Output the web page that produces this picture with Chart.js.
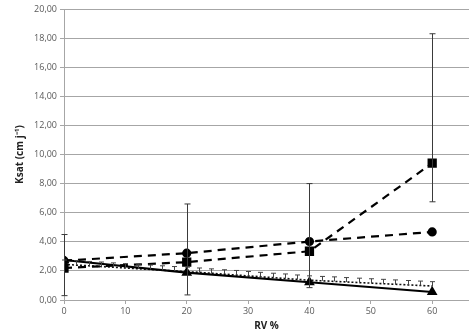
<!DOCTYPE html>
<html><head><meta charset="utf-8">
<script src="https://cdn.jsdelivr.net/npm/chart.js@4/dist/chart.umd.min.js"></script>
<style>html,body{margin:0;padding:0;background:#fff}#wrap{width:469px;height:332px}</style>
</head><body><div id="wrap"><canvas id="c" width="469" height="332"></canvas></div>
<script>
const xMain = [0, 20, 40, 60];
const circleVals = [2.70, 3.22, 4.02, 4.68];
const squareVals = [2.20, 2.60, 3.35, 9.40];
const squareErrHigh = [4.50, 6.60, 8.00, 18.30];
const squareErrLow = [0.30, 0.35, 0.85, 6.75];
const triangleVals = [2.75, 1.88, 1.22, 0.55];
const dottedX = [0,2,4,6,8,10,12,14,16,18,20,22,24,26,28,30,32,34,36,38,40,42,44,46,48,50,52,54,56,58,60];
const dottedVals = [2.45,2.40,2.35,2.30,2.25,2.20,2.15,2.10,2.05,2.00,1.95,1.90,1.84,1.78,1.72,1.66,1.60,1.54,1.48,1.42,1.36,1.32,1.28,1.24,1.20,1.16,1.12,1.08,1.04,1.00,0.96];
const dottedErrPlus = [0.30,0.30,0.30,0.31,0.30,0.30,0.31,0.30,0.30,0.30,0.31,0.30,0.30,0.30,0.31,0.30,0.30,0.30,0.31,0.30,0.30,0.30,0.31,0.30,0.30,0.30,0.30,0.30,0.30,0.30,0.30];
const yTicks = [0,2,4,6,8,10,12,14,16,18,20];
const xTicks = [0,10,20,30,40,50,60];

const pts = (xs, ys) => xs.map((x,i)=>({x:x, y:ys[i]}));

const errorPlugin = {
  id: 'errbars',
  afterDatasetsDraw(chart) {
    const ctx = chart.ctx, xs = chart.scales.x, ys = chart.scales.y;
    ctx.save();
    ctx.strokeStyle = '#3a3a3a';
    ctx.lineWidth = 1;
    xMain.forEach((x,i)=>{
      const px = Math.round(xs.getPixelForValue(x)) + 0.5;
      const yh = ys.getPixelForValue(squareErrHigh[i]);
      const yl = ys.getPixelForValue(squareErrLow[i]);
      ctx.beginPath();
      ctx.moveTo(px, yh); ctx.lineTo(px, yl);
      ctx.moveTo(px-3, yh); ctx.lineTo(px+3, yh);
      ctx.moveTo(px-3, yl); ctx.lineTo(px+3, yl);
      ctx.stroke();
    });
    ctx.strokeStyle = '#444';
    dottedX.forEach((x,i)=>{
      const px = Math.round(xs.getPixelForValue(x)) + 0.5;
      const y0 = ys.getPixelForValue(dottedVals[i]);
      const y1 = ys.getPixelForValue(dottedVals[i] + dottedErrPlus[i]);
      ctx.beginPath();
      ctx.moveTo(px, y0); ctx.lineTo(px, y1);
      ctx.moveTo(px-2.5, y1); ctx.lineTo(px+2.5, y1);
      ctx.stroke();
    });
    ctx.restore();
  }
};

const fam = "'Open Sans', 'Liberation Sans', sans-serif";
const tickFont = {family: fam, size: 9};
new Chart(document.getElementById('c'), {
  type: 'scatter',
  data: {
    datasets: [
      {label:'dotted', data: pts(dottedX, dottedVals), showLine:true, borderColor:'#111', borderWidth:1.6, borderDash:[2,2], pointRadius:0, order:4},
      {label:'triangles', data: pts(xMain, triangleVals), showLine:true, borderColor:'#000', backgroundColor:'#000', borderWidth:2.2, pointStyle:'triangle', pointRadius:4, order:3},
      {label:'circles', data: pts(xMain, circleVals), showLine:true, borderColor:'#000', backgroundColor:'#000', borderWidth:2.2, borderDash:[8,6], pointStyle:'circle', pointRadius:3.5, order:2},
      {label:'squares', data: pts(xMain, squareVals), showLine:true, borderColor:'#000', backgroundColor:'#000', borderWidth:2.2, borderDash:[8,6], pointStyle:'rect', pointRadius:5, order:1}
    ]
  },
  options: {
    responsive:false, animation:false, devicePixelRatio:1,
    layout:{autoPadding:false, padding:{top:9, right:0, bottom:0, left:14}},
    plugins:{legend:{display:false}, tooltip:{enabled:false}},
    scales:{
      x:{
        type:'linear', min:0, max:66,
        afterBuildTicks(a){ a.ticks = xTicks.map(v=>({value:v})); },
        ticks:{font:tickFont, color:'#595959', padding:2, maxRotation:0, callback:v=>String(v)},
        grid:{drawOnChartArea:false, drawTicks:true, tickLength:4, color:'#a6a6a6'},
        border:{color:'#a6a6a6'},
        title:{display:true, text:'RV %', font:{family:fam, size:10, weight:'bold'}, color:'#222', padding:{top:0,bottom:0}},
        afterFit(a){ a.height = 32; a.paddingRight = 0; a.paddingLeft = 0; }
      },
      y:{
        min:0, max:20,
        afterBuildTicks(a){ a.ticks = yTicks.map(v=>({value:v})); },
        ticks:{font:tickFont, color:'#595959', padding:3, callback:v=>v.toFixed(2).replace('.',',')},
        grid:{color:'#a6a6a6', lineWidth:1, drawTicks:true, tickLength:4},
        border:{color:'#a6a6a6'},
        title:{display:true, text:'Ksat (cm j\u207B\u00B9)', font:{family:fam, size:10, weight:'bold'}, color:'#222', padding:{top:0,bottom:0}},
        afterFit(a){ a.width = 50; a.paddingTop = 0; a.paddingBottom = 0; }
      }
    }
  },
  plugins:[errorPlugin]
});
</script></body></html>
